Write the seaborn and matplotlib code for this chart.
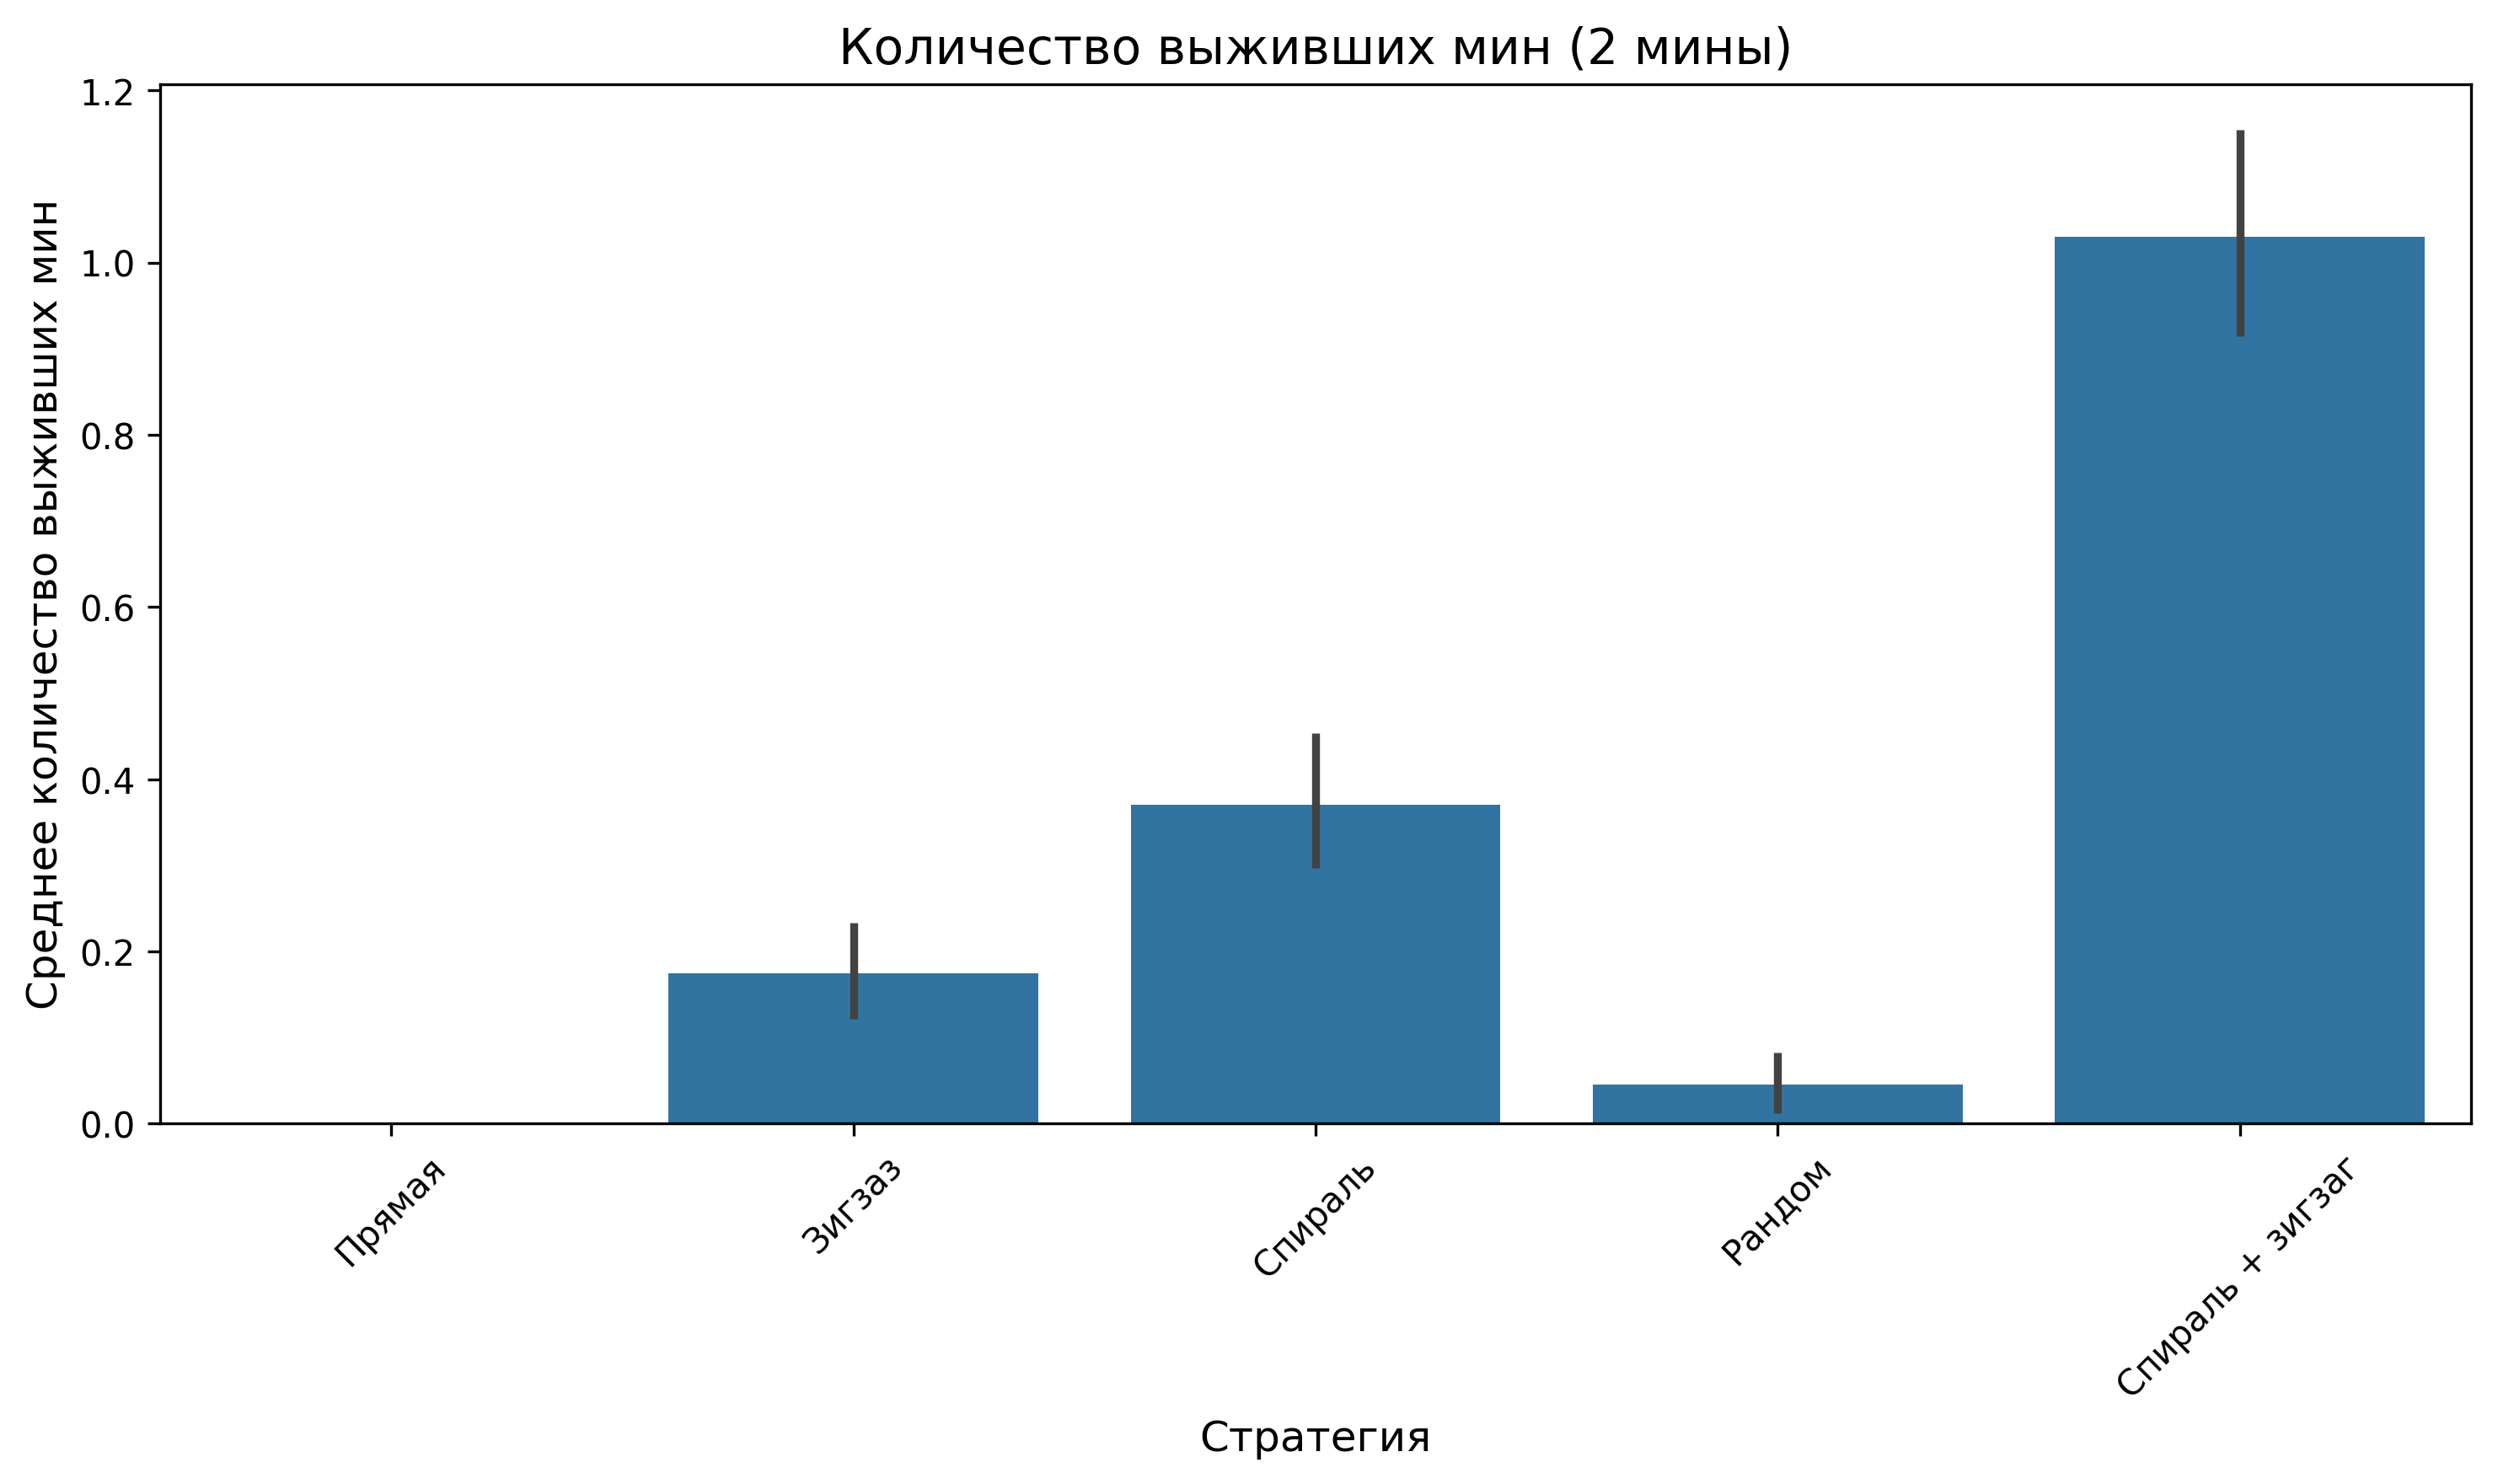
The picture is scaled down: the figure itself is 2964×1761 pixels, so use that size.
import pandas as pd
import seaborn as sns
import matplotlib.pyplot as plt

# mean survived mines per strategy, with CI bounds
strategies = ["Прямая", "Зигзаз", "Спираль", "Рандом", "Спираль + зигзаг"]
mean_survived = [0.0, 0.175, 0.37, 0.045, 1.03]
ci_low = [0.0, 0.122, 0.297, 0.012, 0.914]
ci_high = [0.0, 0.233, 0.453, 0.083, 1.154]

df = pd.DataFrame({"strategy": strategies, "survived": mean_survived})

fig = plt.figure(figsize=(9.88, 5.873), dpi=300)
ax = sns.barplot(data=df, x="strategy", y="survived", color="#1f77b4", errorbar=None)

# confidence intervals
for i, (lo, hi) in enumerate(zip(ci_low, ci_high)):
    if hi > lo:
        ax.plot([i, i], [lo, hi], color=".26", linewidth=2.25, solid_capstyle="butt")
ax.set_xlim(-0.5, len(strategies) - 0.5)
ax.set_ylim(0, 1.2075)

plt.title("Количество выживших мин (2 мины)", fontsize=14)
plt.xlabel("Стратегия", fontsize=12)
plt.ylabel("Среднее количество выживших мин", fontsize=12)
plt.xticks(rotation=45)
plt.subplots_adjust(left=0.0641, right=0.9892, top=0.943, bottom=0.2427)
plt.savefig("out.png", dpi=300)
